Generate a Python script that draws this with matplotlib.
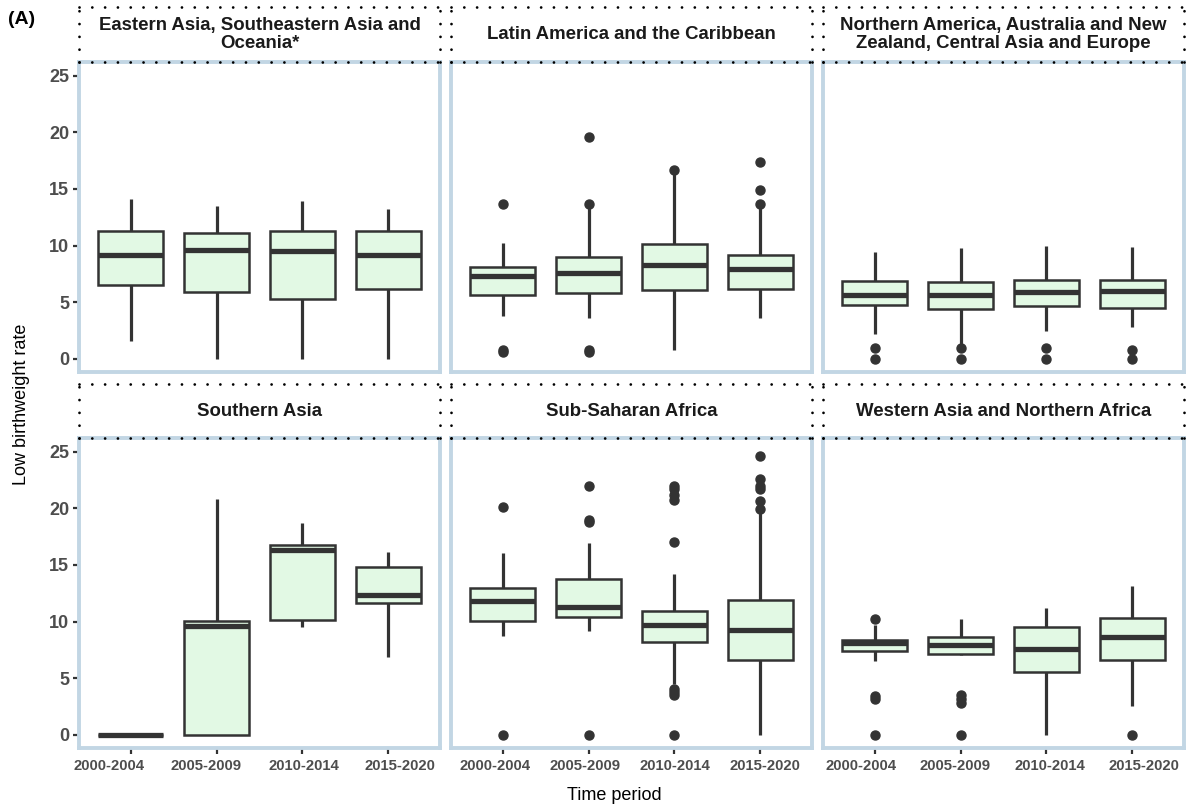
import matplotlib
matplotlib.use('Agg')
import matplotlib.pyplot as plt
import matplotlib.transforms as mtransforms

plt.rcParams['font.family'] = ['Liberation Sans', 'DejaVu Sans']

periods = ['2000-2004', '2005-2009', '2010-2014', '2015-2020']
regions = ['Eastern Asia, Southeastern Asia and\nOceania*',
           'Latin America and the Caribbean',
           'Northern America, Australia and New\nZealand, Central Asia and Europe',
           'Southern Asia',
           'Sub-Saharan Africa',
           'Western Asia and Northern Africa']

# per period: [lower whisker, q1, median, q3, upper whisker]
east_asia = [[1.6, 6.5, 9.2, 11.25, 14.1], [0, 5.9, 9.6, 11.15, 13.5],
             [0, 5.3, 9.55, 11.3, 13.9], [0, 6.15, 9.2, 11.25, 13.2]]
east_asia_out = [[], [], [], []]

latin_america = [[3.75, 5.65, 7.35, 8.1, 10.2], [3.6, 5.82, 7.6, 8.97, 13.5],
                 [0.8, 6.06, 8.26, 10.1, 16.5], [3.6, 6.2, 7.9, 9.15, 13.5]]
latin_america_out = [[0.6, 0.8, 13.7], [0.6, 0.8, 13.7, 19.6],
                     [16.7], [13.7, 14.9, 17.4]]

north_europe = [[2.2, 4.76, 5.65, 6.9, 9.44], [1.2, 4.44, 5.65, 6.8, 9.8],
                [2.5, 4.65, 5.9, 7.0, 9.97], [2.8, 4.53, 6.0, 7.0, 9.9]]
north_europe_out = [[0, 0.94], [0, 0.94], [0, 0.94], [0, 0.82]]

southern_asia = [[0, 0, 0, 0, 0], [0, 0, 9.57, 10.07, 20.8],
                 [9.54, 10.1, 16.28, 16.8, 18.7], [6.9, 11.6, 12.34, 14.78, 16.1]]
southern_asia_out = [[], [], [], []]

sub_saharan = [[8.7, 10.04, 11.8, 12.93, 16.08], [9.19, 10.42, 11.3, 13.78, 16.96],
               [4.5, 8.19, 9.72, 10.92, 14.16], [0, 6.6, 9.25, 11.9, 19.8]]
sub_saharan_out = [[0, 20.08], [0, 18.8, 19.0, 22.0],
                   [0, 3.56, 3.8, 4.06, 17.0, 20.7, 21.2, 21.67, 22.0],
                   [19.96, 20.6, 21.7, 21.97, 22.56, 24.6]]

west_asia = [[6.5, 7.45, 8.13, 8.36, 9.66], [7.07, 7.18, 7.98, 8.66, 10.2],
             [0, 5.57, 7.6, 9.54, 11.2], [2.53, 6.65, 8.63, 10.28, 13.1]]
west_asia_out = [[0, 3.2, 3.4, 10.2], [0, 2.83, 3.2, 3.56], [], [0]]

panel_data = [(east_asia, east_asia_out), (latin_america, latin_america_out),
              (north_europe, north_europe_out), (southern_asia, southern_asia_out),
              (sub_saharan, sub_saharan_out), (west_asia, west_asia_out)]

W, H = 1186, 807
fig = plt.figure(figsize=(W / 100, H / 100), dpi=100)

col_left = [79, 451, 823]
panel_w = 361
row_top = [62, 438]
panel_h = 310
strip_top = [7, 384]
# the period labels in the original sit a little off their ticks (pixels)
label_shift = [[-22, -11, 1, 12], [-8, -4, 0.5, 5], [-14, -5.5, 3.5, 12]]

dark = '#333333'
border = '#c2d6e4'
fill = '#e2f9e4'

for i, (vals, outs) in enumerate(panel_data):
    row, col = i // 3, i % 3
    x0 = col_left[col]
    y0 = row_top[row]
    ax = fig.add_axes([x0 / W, 1 - (y0 + panel_h) / H, panel_w / W, panel_h / H])

    stats = []
    for v, o in zip(vals, outs):
        stats.append({'whislo': v[0], 'q1': v[1], 'med': v[2], 'q3': v[3],
                      'whishi': v[4], 'fliers': o})
    ax.bxp(stats, positions=[1, 2, 3, 4], widths=0.75, patch_artist=True,
           showcaps=False,
           boxprops=dict(facecolor=fill, edgecolor=dark, linewidth=1.8),
           medianprops=dict(color=dark, linewidth=3.8, solid_capstyle='butt'),
           whiskerprops=dict(color=dark, linewidth=2.3, solid_capstyle='butt'),
           flierprops=dict(marker='o', markerfacecolor=dark, markeredgecolor=dark,
                           markersize=6.5))

    ax.set_xlim(0.4, 4.6)
    ax.set_ylim(-1.15, 26.2)
    ax.set_yticks([0, 5, 10, 15, 20, 25])
    ax.set_xticks([1, 2, 3, 4])
    for s in ax.spines.values():
        s.set_color(border)
        s.set_linewidth(2.8)

    ax.tick_params(axis='y', length=4.5, width=1.6, color=dark, pad=2.5,
                   labelsize=13, labelcolor='#4d4d4d',
                   left=(col == 0), labelleft=(col == 0))
    ax.tick_params(axis='x', length=4.5, width=1.6, color=dark,
                   bottom=(row == 1), labelbottom=False)
    for lab in ax.get_yticklabels():
        lab.set_fontweight('bold')

    if row == 1:
        base = mtransforms.blended_transform_factory(ax.transData, ax.transAxes)
        for k, p in enumerate(periods):
            off = mtransforms.ScaledTranslation(label_shift[col][k] / 100, -11 / 100,
                                                fig.dpi_scale_trans)
            ax.text(k + 1, 0, p, transform=base + off, ha='center', va='top',
                    fontsize=10.7, fontweight='bold', color='#4d4d4d')

    # facet strip with dotted border
    st = strip_top[row]
    sh = y0 - st
    sax = fig.add_axes([x0 / W, 1 - (st + sh) / H, panel_w / W, sh / H])
    sax.set_xticks([])
    sax.set_yticks([])
    sax.set_facecolor('none')
    for s in sax.spines.values():
        s.set_linestyle((0, (0.01, 4.6)))
        s.set_linewidth(2)
        s.set_capstyle('round')
        s.set_color('black')
    sax.text(0.5, 0.5, regions[i], ha='center', va='center', fontsize=13.4,
             fontweight='bold', color='#1a1a1a', linespacing=1.05,
             transform=sax.transAxes)

fig.text(22 / W, 1 - 404 / H, 'Low birthweight rate', rotation=90,
         ha='center', va='center', fontsize=13)
fig.text(614 / W, 1 - 795 / H, 'Time period', ha='center', va='center',
         fontsize=13)
fig.text(8 / W, 1 - 20 / H, '(A)', ha='left', va='center', fontsize=14,
         fontweight='bold')

fig.savefig('out.png', dpi=100)
